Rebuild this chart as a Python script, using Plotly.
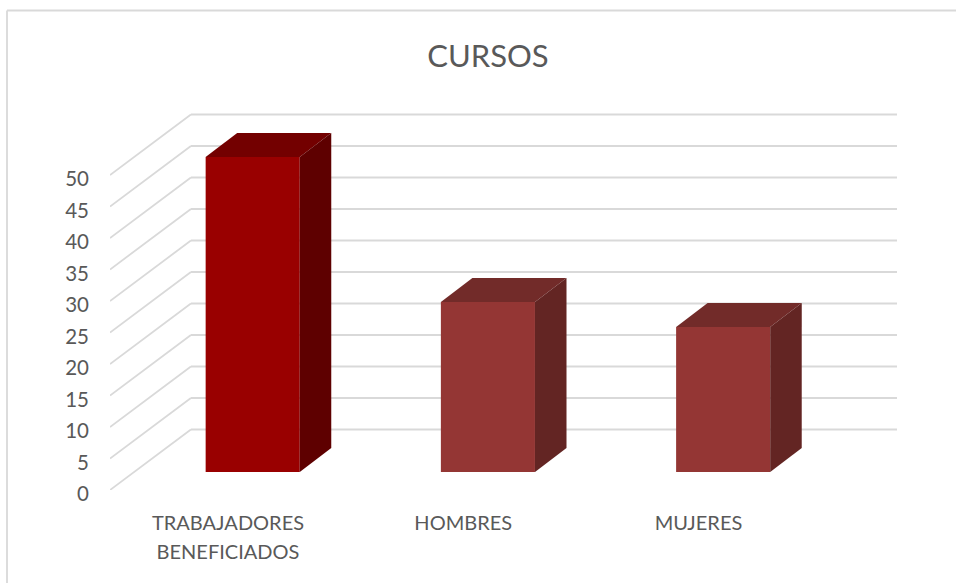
import plotly.graph_objects as go

categories = ["TRABAJADORES", "BENEFICIADOS"], ["HOMBRES"], ["MUJERES"]
values = [50, 27, 23]
y_ticks = [0, 5, 10, 15, 20, 25, 30, 35, 40, 45, 50]
front_colors = ["#990000", "#943634", "#943634"]
top_colors = ["#730000", "#722B29", "#722B29"]
side_colors = ["#5E0000", "#632523", "#632523"]

GRID = "#D9D9D9"
TEXT = "#595959"
FONT = "Lato"

# plot rectangle in pixels (page 956x583)
L, R, T, B = 110, 897, 108, 490
W, H = 956, 583

# geometry in axis units
wall_dx = 0.344
wall_dy = 9.6
bar_off = 0.105
bar_w = 0.4
bar_dx = 0.134
bar_dy = 3.81
floor = 2.86

x_lo = -0.5016
x_hi = 2.844
y_hi = (B - T) / 6.3

xs = list(range(len(categories)))
LABEL_PX = 20
tick_text = ["<br>".join(f'<span style="font-size:{LABEL_PX}px">{w}</span>' for w in c) for c in categories]

fig = go.Figure()

# front faces
fig.add_trace(go.Bar(
    x=[i + bar_off for i in xs], y=values, base=[floor] * len(values), width=bar_w,
    marker=dict(color=front_colors, line=dict(width=0)), showlegend=False, hoverinfo="skip",
))

# top and side faces
for i, v, ct, cs in zip(xs, values, top_colors, side_colors):
    x0 = i + bar_off - bar_w / 2
    x1 = i + bar_off + bar_w / 2
    y0 = floor
    y1 = floor + v
    fig.add_trace(go.Scatter(
        x=[x0, x1, x1 + bar_dx, x0 + bar_dx, x0],
        y=[y1, y1, y1 + bar_dy, y1 + bar_dy, y1],
        mode="lines", fill="toself", fillcolor=ct, line=dict(width=0),
        showlegend=False, hoverinfo="skip",
    ))
    fig.add_trace(go.Scatter(
        x=[x1, x1 + bar_dx, x1 + bar_dx, x1, x1],
        y=[y0, y0 + bar_dy, y1 + bar_dy, y1, y0],
        mode="lines", fill="toself", fillcolor=cs, line=dict(width=0),
        showlegend=False, hoverinfo="skip",
    ))

# wall gridlines
shapes = []
grid_line = dict(color=GRID, width=1.8)
for t in y_ticks:
    shapes.append(dict(type="line", xref="x", yref="y", layer="below", line=grid_line,
                       x0=x_lo, y0=t, x1=x_lo + wall_dx, y1=t + wall_dy))
    shapes.append(dict(type="line", xref="x", yref="y", layer="below", line=grid_line,
                       x0=x_lo + wall_dx, y0=t + wall_dy, x1=x_hi, y1=t + wall_dy))

# outer frame (left and top edges)
pw, ph = R - L, B - T
fx = lambda px: (px - L) / pw
fy = lambda py: (B - py) / ph
shapes.append(dict(type="line", xref="paper", yref="paper", line=grid_line,
                   x0=fx(7), y0=fy(10.5), x1=fx(7), y1=fy(H + 5)))
shapes.append(dict(type="line", xref="paper", yref="paper", line=grid_line,
                   x0=fx(7), y0=fy(10.5), x1=fx(W + 5), y1=fy(10.5)))

fig.update_layout(
    width=W, height=H,
    margin=dict(l=L, r=W - R, t=T, b=H - B, pad=0),
    paper_bgcolor="white", plot_bgcolor="white",
    showlegend=False,
    shapes=shapes,
    title=dict(text="CURSOS", x=488 / W, xanchor="center", y=1 - 56 / H, yanchor="middle",
               font=dict(family=FONT, size=31, color=TEXT)),
    xaxis=dict(range=[x_lo, x_hi], tickmode="array", tickvals=xs, ticktext=tick_text,
               showgrid=False, zeroline=False, showline=False, ticks="",
               ticklabelstandoff=17, tickangle=0,
               tickfont=dict(family=FONT, size=22.3, color=TEXT)),
    yaxis=dict(range=[0, y_hi], tickmode="array", tickvals=y_ticks,
               showgrid=False, zeroline=False, showline=False, ticks="",
               ticklabelstandoff=20, ticklabelshift=4,
               tickfont=dict(family=FONT, size=20.5, color=TEXT)),
)

fig.write_html("out.html", config={"displayModeBar": False},
               post_script="document.body.style.margin='0';")
